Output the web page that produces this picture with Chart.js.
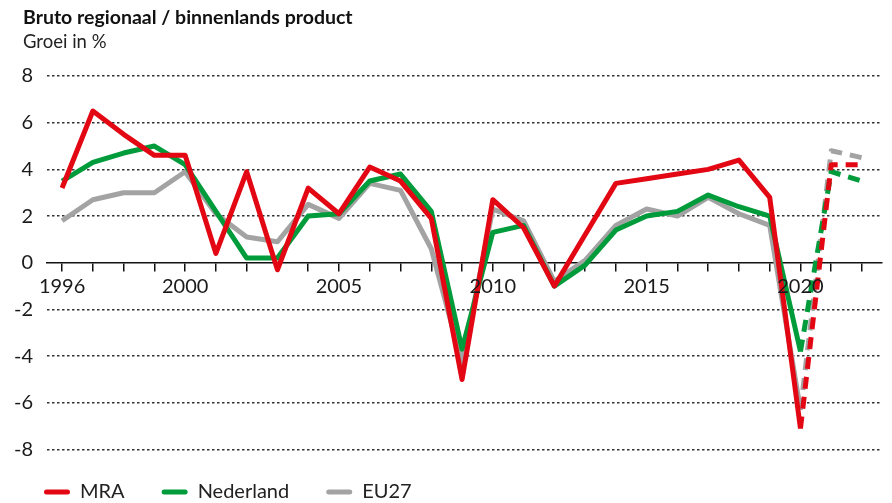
<!DOCTYPE html>
<html>
<head>
<meta charset="utf-8">
<script src="https://cdn.jsdelivr.net/npm/chart.js@4"></script>
<style>
  html, body { margin: 0; padding: 0; background: #ffffff; }
  #wrap { width: 892px; height: 503px; position: relative; }
</style>
</head>
<body>
<div id="wrap"><canvas id="c" width="892" height="503"></canvas></div>
<script>
// ---- Data ----
const years = [1996,1997,1998,1999,2000,2001,2002,2003,2004,2005,2006,2007,2008,2009,2010,2011,2012,2013,2014,2015,2016,2017,2018,2019,2020,2021,2022];
const mra       = [3.2, 6.5, 5.5, 4.6, 4.6, 0.4, 3.9, -0.3, 3.2, 2.1, 4.1, 3.5, 1.9, -5.0, 2.7, 1.5, -1.0, 1.2, 3.4, 3.6, 3.8, 4.0, 4.4, 2.8, -7.1, 4.2, 4.2];
const nederland = [3.5, 4.3, 4.7, 5.0, 4.2, 2.2, 0.2, 0.2, 2.0, 2.1, 3.5, 3.8, 2.2, -3.7, 1.3, 1.6, -1.0, -0.1, 1.4, 2.0, 2.2, 2.9, 2.4, 2.0, -3.8, 3.9, 3.5];
const eu27      = [1.8, 2.7, 3.0, 3.0, 3.9, 2.1, 1.1, 0.9, 2.5, 1.9, 3.4, 3.1, 0.6, -4.3, 2.3, 1.8, -0.8, 0.1, 1.6, 2.3, 2.0, 2.8, 2.1, 1.6, -6.3, 4.8, 4.5];
const xTickLabels = [1996, 2000, 2005, 2010, 2015, 2020];
const yTicks = [-8, -6, -4, -2, 0, 2, 4, 6, 8];
const forecastFrom = 2020; // segments from this year on are dashed (forecast)
const seriesNames = ['MRA', 'Nederland', 'EU27'];
const titleText = 'Bruto regionaal / binnenlands product';
const subtitleText = 'Groei in %';

// ---- Styles / layout ----
const colors = ['#e30613', '#009b3a', '#a3a3a3'];
const FONT = 'Lato, "DejaVu Sans", sans-serif';
const pxPerUnit = (449.5 - 76) / 16;
const chartAreaBottom = 451;
const yMin = -8 - (chartAreaBottom - 449.5) / pxPerUnit;
const xMin = 1995.51, xMax = 2022.65;
const titleLeft = 23, legendLeft = 44, legendCenterY = 492;

function toPoints(vals) { return years.map((y, i) => ({ x: y, y: vals[i] })); }
function makeDataset(label, vals, color) {
  return {
    label: label, data: toPoints(vals), borderColor: color, backgroundColor: color,
    borderWidth: 5, pointRadius: 0, pointHoverRadius: 0, tension: 0,
    borderJoinStyle: 'round', borderCapStyle: 'butt', fill: false,
    segment: { borderDash: ctx => (years[ctx.p0DataIndex] >= forecastFrom ? [12, 8] : undefined) }
  };
}

const placeBoxes = {
  id: 'placeBoxes',
  afterLayout(chart) {
    chart.boxes.forEach(b => {
      if (b.options && (b.options.text === titleText || b.options.text === subtitleText)) b.left = titleLeft;
    });
    const lg = chart.legend;
    if (lg) {
      const p = lg.options.labels.padding;
      lg.left = legendLeft - p;
      lg.top = legendCenterY - p - 10;
      lg.bottom = chart.height;
      lg.height = lg.bottom - lg.top;
    }
  }
};

const yearTicks = scale => { scale.ticks = years.map(v => ({ value: v })); };

new Chart(document.getElementById('c'), {
  type: 'line',
  data: { datasets: [
    makeDataset(seriesNames[0], mra, colors[0]),
    makeDataset(seriesNames[1], nederland, colors[1]),
    makeDataset(seriesNames[2], eu27, colors[2])
  ]},
  options: {
    responsive: false, animation: false, events: [],
    layout: { padding: { left: 5, right: 10, top: 0, bottom: 0 } },
    scales: {
      x: {
        type: 'linear', min: xMin, max: xMax, position: { y: 0 },
        afterBuildTicks: yearTicks,
        ticks: { z: 1, autoSkip: false, maxRotation: 0, padding: 4, color: '#1a1a1a',
          font: { family: FONT, size: 20 },
          callback: v => (xTickLabels.includes(v) ? String(v) : '') },
        grid: { drawOnChartArea: false, drawTicks: true, tickLength: 8, color: '#111', lineWidth: 1.5 },
        border: { display: true, color: '#111', width: 1.5 }
      },
      y: {
        type: 'linear', min: yMin, max: 8,
        afterFit: scale => { scale.width = 42; },
        afterBuildTicks: scale => { scale.ticks = yTicks.map(v => ({ value: v })); },
        ticks: { padding: 14, color: '#1a1a1a', font: { family: FONT, size: 20 }, callback: v => String(v) },
        grid: { drawTicks: false, color: ctx => (ctx.tick && ctx.tick.value === 0 ? 'rgba(0,0,0,0)' : '#333'), lineWidth: 1.4 },
        border: { display: false, dash: [2.5, 2.5] }
      }
    },
    plugins: {
      title: { display: true, text: titleText, align: 'start', color: '#111',
        font: { family: FONT, size: 19.5, weight: 'bold', lineHeight: 1.2 }, padding: { top: 6.5, bottom: 1.5 } },
      subtitle: { display: true, text: subtitleText, align: 'start', color: '#222',
        font: { family: FONT, size: 18.5, weight: 'normal', lineHeight: 1.2 }, padding: { top: 0, bottom: 22.4 } },
      legend: {
        display: true, position: 'bottom', align: 'start', maxHeight: 52,
        labels: { boxWidth: 26, boxHeight: 5, padding: 37, color: '#222',
          useBorderRadius: true, borderRadius: 2.5, font: { family: FONT, size: 20 },
          generateLabels: c => Chart.defaults.plugins.legend.labels.generateLabels(c)
            .map(l => Object.assign({}, l, { lineWidth: 0, lineDash: [], strokeStyle: l.fillStyle })) }
      },
      tooltip: { enabled: false }
    }
  },
  plugins: [placeBoxes]
});
</script>
</body>
</html>
